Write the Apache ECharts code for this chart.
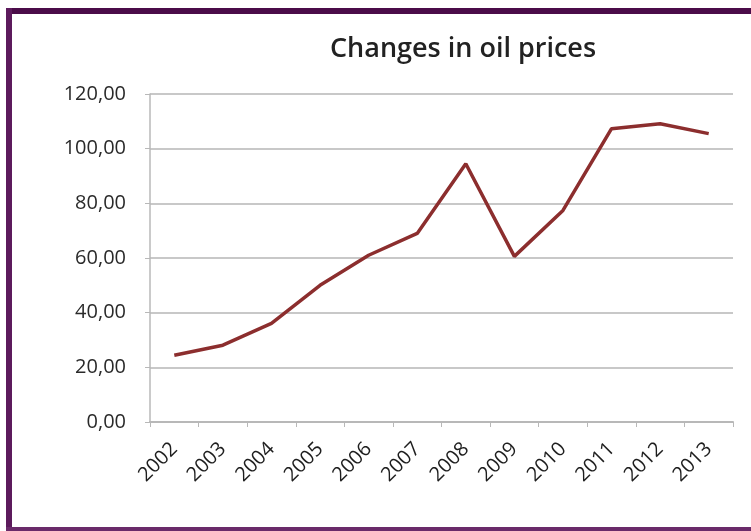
<!DOCTYPE html>
<html>
<head>
<meta charset="utf-8">
<script src="https://cdn.jsdelivr.net/npm/echarts@6/dist/echarts.min.js"></script>
<style>
  html, body { margin: 0; padding: 0; background: #fff; }
  #chart { position: absolute; left: 0; top: 0; width: 751px; height: 531px; }
</style>
</head>
<body>
<div id="chart"></div>
<script>
// oil price per year
const years = ["2002", "2003", "2004", "2005", "2006", "2007", "2008", "2009", "2010", "2011", "2012", "2013"];
const prices = [24.4, 28.1, 36.1, 50.0, 61.0, 69.0, 94.5, 60.6, 77.4, 107.3, 109.1, 105.5];

const chart = echarts.init(document.getElementById("chart"));
const font = "Open Sans";

chart.setOption({
  animation: false,
  backgroundColor: "#fff",
  title: {
    text: "Changes in oil prices",
    left: 458,
    top: 31,
    textAlign: "center",
    textStyle: { fontFamily: font, fontSize: 27, fontWeight: 600, color: "#222" }
  },
  // purple frame
  graphic: [
    { type: "rect", shape: { x: 6, y: 8, width: 760, height: 6 }, style: { fill: "#4b0c49" } },
    { type: "rect", shape: { x: 6, y: 8, width: 6, height: 530 }, style: { fill: "#5c1a5c" } },
    { type: "rect", shape: { x: 6, y: 527, width: 760, height: 4 }, style: { fill: "#6a2a6a" } }
  ],
  grid: { left: 150, right: 18, top: 94, bottom: 109 },
  xAxis: {
    type: "category",
    data: years,
    boundaryGap: true,
    axisLine: { lineStyle: { color: "#b8b8b8", width: 2 } },
    axisTick: { show: true, length: 5, lineStyle: { color: "#b8b8b8" } },
    axisLabel: { rotate: 45, fontFamily: font, fontSize: 20, color: "#1e1e1e", margin: 24 }
  },
  yAxis: {
    type: "value",
    min: 0,
    max: 120,
    interval: 20,
    axisLine: { show: true, lineStyle: { color: "#b8b8b8", width: 1.5 } },
    axisTick: { show: true, length: 5, lineStyle: { color: "#b8b8b8" } },
    splitLine: { lineStyle: { color: "#c8c8c8", width: 2 } },
    axisLabel: {
      fontFamily: font, fontSize: 20, color: "#2a2a2a", margin: 24,
      formatter: v => v.toFixed(2).replace(".", ",")
    }
  },
  series: [{
    type: "line",
    data: prices,
    symbol: "none",
    lineStyle: { color: "#8c2e2e", width: 3.5 }
  }]
});
</script>
</body>
</html>
